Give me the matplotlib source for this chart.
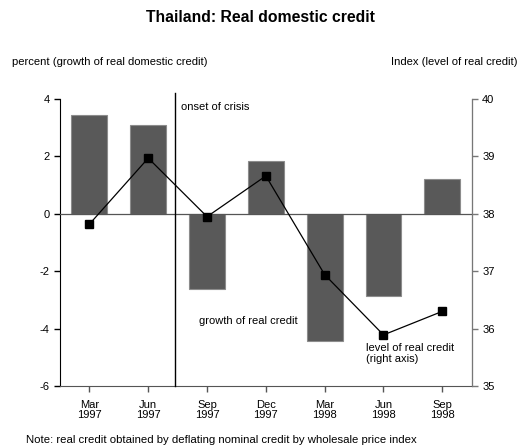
import matplotlib.pyplot as plt
import numpy as np

plt.rcParams['font.family'] = ['Liberation Sans', 'DejaVu Sans']
plt.rcParams['axes.unicode_minus'] = False

# data
quarters = ['Mar\n1997', 'Jun\n1997', 'Sep\n1997', 'Dec\n1997', 'Mar\n1998', 'Jun\n1998', 'Sep\n1998']
growth = [3.45, 3.1, -2.63, 1.85, -4.43, -2.88, 1.2]
level = [37.82, 38.97, 37.95, 38.66, 36.94, 35.89, 36.3]
crisis_pos = 1.45

x = np.arange(len(quarters))

fig = plt.figure(figsize=(5.22, 4.48), dpi=100)
ax1 = fig.add_axes([0.115, 0.1384, 0.7886, 0.6406])
ax2 = ax1.twinx()

#barres de croissance
ax1.bar(x, growth, width=0.61, color='#595959', edgecolor='#8c8c8c', linewidth=0.8, zorder=2)
ax1.axhline(0, color='#555555', linewidth=0.9, zorder=3)
ax1.axvline(crisis_pos, ymin=0, ymax=1.02, color='black', linewidth=1, clip_on=False, zorder=3)

ax1.set_xlim(-0.5, 6.5)
ax1.set_ylim(-6, 4)
ax1.set_yticks([-6, -4, -2, 0, 2, 4])
ax1.set_xticks(x)
ax1.set_xticklabels(quarters, fontsize=8, linespacing=1.0)

#ligne niveau (axe droit)
ax2.plot(x, level, color='black', linewidth=0.9, marker='s', markersize=6)
ax2.set_ylim(35, 40)
ax2.set_yticks([35, 36, 37, 38, 39, 40])

for a in (ax1, ax2):
    a.spines['top'].set_visible(False)
    a.tick_params(labelsize=8, length=4, width=1)
ax1.spines['left'].set_color('black')
ax1.spines['bottom'].set_color('#555555')
ax2.spines['right'].set_color('#777777')
ax2.spines['left'].set_visible(False)
ax2.spines['bottom'].set_visible(False)
ax1.tick_params(axis='x', colors='#555555', labelcolor='black', pad=6)
ax2.tick_params(axis='y', colors='#777777', labelcolor='black')

ax1.text(crisis_pos + 0.1, 3.9, 'onset of crisis', fontsize=8, va='top')
ax1.text(1.87, -3.55, 'growth of real credit', fontsize=8, va='top')
ax1.text(4.7, -4.5, 'level of real credit\n(right axis)', fontsize=8, va='top', linespacing=1.1)

fig.text(0.5, 0.962, 'Thailand: Real domestic credit', ha='center', va='center', fontsize=11.3, fontweight='bold')
fig.text(0.023, 0.862, 'percent (growth of real domestic credit)', fontsize=8.1, va='center')
fig.text(0.992, 0.862, 'Index (level of real credit)', fontsize=8.1, va='center', ha='right')
fig.text(0.05, 0.017, 'Note: real credit obtained by deflating nominal credit by wholesale price index', fontsize=8.2, va='center')

fig.savefig('out.png', dpi=100)
